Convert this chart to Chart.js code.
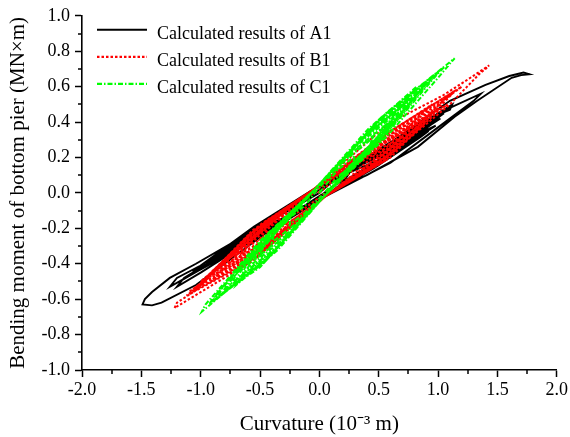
<!DOCTYPE html>
<html><head><meta charset="utf-8">
<script src="https://cdn.jsdelivr.net/npm/chart.js@4/dist/chart.umd.min.js"></script>
<style>html,body{margin:0;padding:0;background:#fff}#wrap{width:570px;height:437px}</style>
</head><body><div id="wrap"><canvas id="c" width="570" height="437"></canvas></div>
<script>
const seriesNames = ['Calculated results of A1', 'Calculated results of B1', 'Calculated results of C1'];
const xTitle = 'Curvature (10\u207B\u00B3 m)';
const yTitle = 'Bending moment of bottom pier (MN\u00D7m)';
const xMinorTicks = [-1.75, -1.25, -0.75, -0.25, 0.25, 0.75, 1.25, 1.75];
const yMinorTicks = [-0.9, -0.7, -0.5, -0.3, -0.1, 0.1, 0.3, 0.5, 0.7, 0.9];

// A1 (black) curvature / moment pairs
const a1Points = [
 [0,0],
 [0.12,0.07],[0.25,0.11],[0.22,0.08],[0.12,0.04],[0.02,-0.01],[-0.12,-0.07],[-0.25,-0.11],[-0.22,-0.08],[-0.12,-0.04],[-0.02,0.01],
 [0.22,0.12],[0.45,0.19],[0.41,0.15],[0.22,0.07],[0.05,-0.02],[-0.2,-0.11],[-0.4,-0.17],[-0.37,-0.13],[-0.2,-0.07],[-0.05,0.02],
 [0.27,0.12],[0.55,0.2],[0.51,0.165],[0.27,0.08],[0.05,-0.02],[-0.25,-0.13],[-0.5,-0.22],[-0.46,-0.185],[-0.25,-0.09],[-0.05,0.02],
 [0.3,0.145],[0.6,0.25],[0.55,0.21],[0.3,0.095],[0.05,-0.02],[-0.27,-0.135],[-0.55,-0.23],[-0.5,-0.19],[-0.27,-0.09],[-0.05,0.02],
 [0.32,0.153],[0.65,0.26],[0.6,0.225],[0.32,0.104],[0.05,-0.02],[-0.3,-0.153],[-0.6,-0.26],[-0.55,-0.225],[-0.3,-0.104],[-0.05,0.02],
 [0.35,0.165],[0.7,0.29],[0.64,0.25],[0.35,0.11],[0.05,-0.02],[-0.32,-0.155],[-0.65,-0.27],[-0.6,-0.23],[-0.32,-0.11],[-0.05,0.02],
 [0.37,0.164],[0.75,0.28],[0.69,0.245],[0.37,0.112],[0.05,-0.02],[-0.35,-0.175],[-0.7,-0.3],[-0.64,-0.265],[-0.35,-0.12],[-0.05,0.02],
 [0.4,0.185],[0.8,0.33],[0.74,0.29],[0.4,0.125],[0.05,-0.02],[-0.37,-0.175],[-0.75,-0.31],[-0.69,-0.27],[-0.37,-0.125],[-0.05,0.02],
 [0.42,0.186],[0.85,0.32],[0.78,0.285],[0.42,0.128],[0.05,-0.02],[-0.4,-0.197],[-0.8,-0.34],[-0.74,-0.305],[-0.4,-0.136],[-0.05,0.02],
 [0.45,0.205],[0.9,0.37],[0.83,0.33],[0.45,0.14],[0.05,-0.02],[-0.42,-0.195],[-0.85,-0.35],[-0.78,-0.31],[-0.42,-0.14],[-0.05,0.02],
 [0.46,0.2],[0.92,0.35],[0.85,0.315],[0.46,0.14],[0.05,-0.02],[-0.45,-0.22],[-0.9,-0.38],[-0.83,-0.345],[-0.45,-0.152],[-0.05,0.02],
 [0.47,0.22],[0.95,0.40],[0.87,0.36],[0.47,0.15],[0.05,-0.02],[-0.47,-0.22],[-0.95,-0.40],[-0.87,-0.36],[-0.47,-0.16],[-0.05,0.02],
 [0.49,0.22],[0.98,0.38],[0.9,0.345],[0.49,0.152],[0.05,-0.02],[-0.48,-0.235],[-0.97,-0.41],[-0.89,-0.375],[-0.48,-0.164],[-0.05,0.02],
 [0.44,0.208],[0.88,0.36],[0.81,0.325],[0.44,0.144],[0.05,-0.02],[-0.52,-0.257],[-1.05,-0.45],[-0.97,-0.415],[-0.52,-0.18],[-0.05,0.02],
 [0.52,0.245],[1.05,0.45],[0.97,0.41],[0.52,0.17],[0.05,-0.02],[-0.5,-0.235],[-1.0,-0.43],[-0.92,-0.39],[-0.5,-0.175],[-0.05,0.02],
 [0.51,0.241],[1.02,0.42],[0.94,0.385],[0.51,0.168],[0.05,-0.02],[-0.46,-0.23],[-0.92,-0.40],[-0.85,-0.365],[-0.46,-0.16],[-0.05,0.02],
 [0.56,0.27],[1.0,0.45],[1.12,0.50],[1.1,0.47],[1.03,0.45],[0.56,0.19],[0.05,-0.02],[-0.55,-0.255],[-1.1,-0.47],[-1.02,-0.42],[-0.55,-0.19],[-0.05,0.02],
 [0.5,0.24],[1.0,0.44],[0.92,0.40],[0.5,0.17],[0.05,-0.02],[-0.63,-0.29],[-1.1,-0.47],[-1.26,-0.53],[-1.2,-0.48],[-1.0,-0.41],[-0.6,-0.24],[-0.05,0.02],
 [0.68,0.31],[1.1,0.48],[1.36,0.56],[1.3,0.52],[1.0,0.37],[0.6,0.17],[0.05,-0.02],[-0.6,-0.28],[-1.0,-0.45],[-1.2,-0.53],[-1.14,-0.48],[-0.9,-0.38],[-0.5,-0.19],[-0.05,0.02],
 [0.55,0.26],[1.1,0.52],[1.4,0.61],[1.6,0.66],[1.72,0.68],[1.77,0.67],[1.7,0.665],[1.62,0.65],[1.33,0.52],[1.14,0.43],[0.83,0.26],[0.4,0.10],[0,-0.02],
 [-0.5,-0.25],[-1.04,-0.52],[-1.33,-0.62],[-1.41,-0.635],[-1.49,-0.63],[-1.47,-0.6],[-1.41,-0.56],[-1.26,-0.48],[-1.04,-0.40],[-0.6,-0.23],[0,0]
];

// B1 (red)
const b1Points = [
 [0,0],
 [0.15,0.09],[0.3,0.15],[0.27,0.12],[0.15,0.05],[0.03,-0.01],[-0.15,-0.1],[-0.3,-0.15],[-0.27,-0.12],[-0.15,-0.055],[-0.03,0.01],
 [0.25,0.145],[0.5,0.25],[0.46,0.21],[0.25,0.085],[0.05,-0.02],[-0.22,-0.15],[-0.45,-0.23],[-0.42,-0.19],[-0.22,-0.085],[-0.05,0.02],
 [0.27,0.145],[0.55,0.25],[0.51,0.21],[0.27,0.09],[0.05,-0.02],[-0.25,-0.166],[-0.5,-0.26],[-0.46,-0.22],[-0.25,-0.099],[-0.05,0.02],
 [0.32,0.185],[0.65,0.32],[0.6,0.28],[0.32,0.105],[0.05,-0.02],[-0.3,-0.2],[-0.6,-0.3],[-0.56,-0.26],[-0.3,-0.11],[-0.05,0.02],
 [0.35,0.186],[0.7,0.32],[0.65,0.28],[0.35,0.115],[0.05,-0.02],[-0.32,-0.218],[-0.65,-0.34],[-0.6,-0.3],[-0.32,-0.129],[-0.05,0.02],
 [0.37,0.215],[0.75,0.37],[0.7,0.33],[0.37,0.12],[0.05,-0.02],[-0.35,-0.23],[-0.7,-0.35],[-0.65,-0.31],[-0.35,-0.125],[-0.05,0.02],
 [0.4,0.22],[0.8,0.38],[0.74,0.34],[0.4,0.137],[0.05,-0.02],[-0.37,-0.25],[-0.75,-0.39],[-0.7,-0.35],[-0.37,-0.148],[-0.05,0.02],
 [0.42,0.245],[0.85,0.42],[0.79,0.38],[0.42,0.14],[0.05,-0.02],[-0.4,-0.265],[-0.8,-0.4],[-0.74,-0.36],[-0.4,-0.145],[-0.05,0.02],
 [0.45,0.244],[0.9,0.42],[0.84,0.38],[0.45,0.151],[0.05,-0.02],[-0.42,-0.275],[-0.85,-0.43],[-0.79,-0.39],[-0.42,-0.163],[-0.05,0.02],
 [0.47,0.275],[0.95,0.47],[0.88,0.43],[0.47,0.155],[0.05,-0.02],[-0.45,-0.3],[-0.9,-0.45],[-0.84,-0.41],[-0.45,-0.16],[-0.05,0.02],
 [0.47,0.29],[0.95,0.5],[0.88,0.46],[0.47,0.18],[0.05,-0.02],[-0.45,-0.314],[-0.9,-0.49],[-0.84,-0.45],[-0.45,-0.186],[-0.05,0.02],
 [0.5,0.273],[1.0,0.47],[0.93,0.43],[0.5,0.169],[0.05,-0.02],[-0.47,-0.307],[-0.95,-0.48],[-0.88,-0.44],[-0.47,-0.182],[-0.05,0.02],
 [0.52,0.3],[1.05,0.52],[0.98,0.48],[0.52,0.17],[0.05,-0.02],[-0.5,-0.33],[-1.0,-0.5],[-0.93,-0.46],[-0.5,-0.18],[-0.05,0.02],
 [0.54,0.29],[1.08,0.5],[1.0,0.46],[0.54,0.18],[0.05,-0.02],[-0.51,-0.333],[-1.02,-0.52],[-0.95,-0.48],[-0.51,-0.198],[-0.05,0.02],
 [0.56,0.325],[1.12,0.56],[1.04,0.52],[0.56,0.185],[0.05,-0.02],[-0.52,-0.36],[-1.05,-0.55],[-0.98,-0.51],[-0.52,-0.2],[-0.05,0.02],
 [0.57,0.336],[1.15,0.58],[1.07,0.54],[0.57,0.209],[0.05,-0.02],[-0.55,-0.358],[-1.1,-0.56],[-1.02,-0.52],[-0.55,-0.213],[-0.05,0.02],
 [0.6,0.35],[1.2,0.6],[1.12,0.56],[0.6,0.2],[0.05,-0.02],[-0.56,-0.38],[-1.12,-0.58],[-1.04,-0.54],[-0.56,-0.21],[-0.05,0.02],
 [0.58,0.39],[1.04,0.55],[1.25,0.64],[1.43,0.72],[1.4,0.7],[1.36,0.68],[1.1,0.5],[0.6,0.22],[0.05,-0.02],
 [-0.55,-0.38],[-1.0,-0.56],[-1.22,-0.65],[-1.2,-0.62],[-1.04,-0.55],[-0.6,-0.24],[-0.05,0.02],[0,0]
];

// C1 (green)
const c1Points = [
 [0,0],
 [0.15,0.126],[0.3,0.21],[0.28,0.16],[0.15,0.088],[0.03,-0.01],[-0.12,-0.112],[-0.25,-0.18],[-0.24,-0.13],[-0.12,-0.072],[-0.03,0.01],
 [0.22,0.186],[0.45,0.31],[0.42,0.26],[0.22,0.13],[0.04,-0.02],[-0.2,-0.174],[-0.4,-0.28],[-0.38,-0.23],[-0.2,-0.112],[-0.04,0.02],
 [0.27,0.228],[0.55,0.38],[0.51,0.33],[0.27,0.16],[0.04,-0.02],[-0.25,-0.217],[-0.5,-0.35],[-0.47,-0.3],[-0.25,-0.14],[-0.04,0.02],
 [0.3,0.24],[0.6,0.4],[0.56,0.35],[0.3,0.168],[0.04,-0.02],[-0.27,-0.236],[-0.55,-0.38],[-0.52,-0.33],[-0.27,-0.152],[-0.04,0.02],
 [0.32,0.27],[0.65,0.45],[0.6,0.4],[0.32,0.19],[0.04,-0.02],[-0.3,-0.26],[-0.6,-0.42],[-0.57,-0.37],[-0.3,-0.168],[-0.04,0.02],
 [0.35,0.294],[0.7,0.49],[0.65,0.44],[0.35,0.206],[0.04,-0.02],[-0.32,-0.285],[-0.65,-0.46],[-0.62,-0.41],[-0.32,-0.184],[-0.04,0.02],
 [0.37,0.312],[0.75,0.52],[0.7,0.47],[0.37,0.218],[0.04,-0.02],[-0.35,-0.304],[-0.7,-0.49],[-0.66,-0.44],[-0.35,-0.196],[-0.04,0.02],
 [0.4,0.33],[0.8,0.55],[0.74,0.5],[0.4,0.231],[0.04,-0.02],[-0.37,-0.316],[-0.74,-0.51],[-0.7,-0.46],[-0.37,-0.204],[-0.04,0.02],
 [0.41,0.36],[0.82,0.6],[0.76,0.55],[0.41,0.25],[0.04,-0.02],[-0.35,-0.322],[-0.7,-0.52],[-0.66,-0.47],[-0.35,-0.208],[-0.04,0.02],
 [0.42,0.348],[0.85,0.58],[0.79,0.53],[0.42,0.244],[0.04,-0.02],[-0.39,-0.335],[-0.78,-0.54],[-0.74,-0.49],[-0.39,-0.216],[-0.04,0.02],
 [0.45,0.372],[0.9,0.62],[0.84,0.57],[0.45,0.26],[0.04,-0.02],[-0.41,-0.353],[-0.82,-0.57],[-0.78,-0.52],[-0.41,-0.228],[-0.04,0.02],
 [0.47,0.39],[0.95,0.65],[0.88,0.6],[0.47,0.273],[0.04,-0.02],[-0.43,-0.366],[-0.86,-0.59],[-0.82,-0.54],[-0.43,-0.236],[-0.04,0.02],
 [0.5,0.408],[1.0,0.68],[0.93,0.63],[0.5,0.286],[0.04,-0.02],[-0.45,-0.378],[-0.9,-0.61],[-0.85,-0.56],[-0.45,-0.244],[-0.04,0.02],
 [0.52,0.426],[1.05,0.71],[0.98,0.66],[0.52,0.298],[0.04,-0.02],[-0.46,-0.39],[-0.93,-0.63],[-0.88,-0.58],[-0.46,-0.252],[-0.04,0.02],
 [0.57,0.456],[1.14,0.76],[1.1,0.73],[1.0,0.65],[0.57,0.32],[0.04,-0.02],[-0.5,-0.42],[-0.74,-0.53],[-0.99,-0.67],[-0.96,-0.63],[-0.79,-0.5],[-0.5,-0.27],[-0.04,0.02],[0,0]
];

const colors = ['#000000', '#ff0000', '#00ff00'];
const dashes = [[], [2.5, 2], [5, 2, 1.5, 2]];
const widths = [1.9, 2, 2];
const FONT = "'Liberation Serif', 'Times New Roman', serif";

const toXY = arr => arr.map(p => ({x: p[0], y: p[1]}));
const seriesData = [a1Points, b1Points, c1Points];

const datasets = seriesData.map((pts, i) => ({
  label: seriesNames[i],
  data: toXY(pts),
  showLine: true,
  borderColor: colors[i],
  backgroundColor: colors[i],
  borderWidth: widths[i],
  borderDash: dashes[i],
  pointRadius: 0,
  tension: 0,
  fill: false,
  order: 3 - i
}));

const fmt = v => (Math.abs(v) < 1e-9 ? '0.0' : Number(v).toFixed(1));

const minorTicksPlugin = {
  id: 'minorTicks',
  afterDraw(chart) {
    const ctx = chart.ctx, a = chart.chartArea;
    const xs = chart.scales.x, ys = chart.scales.y;
    ctx.save();
    ctx.strokeStyle = '#000';
    ctx.lineWidth = 1.5;
    ctx.beginPath();
    xMinorTicks.forEach(v => { const px = Math.round(xs.getPixelForValue(v)); ctx.moveTo(px, a.bottom); ctx.lineTo(px, a.bottom + 4); });
    yMinorTicks.forEach(v => { const py = Math.round(ys.getPixelForValue(v)); ctx.moveTo(a.left - 4, py); ctx.lineTo(a.left, py); });
    ctx.stroke();
    ctx.restore();
  }
};

const legendPlugin = {
  id: 'insideLegend',
  afterDraw(chart) {
    const ctx = chart.ctx, a = chart.chartArea;
    ctx.save();
    chart.data.datasets.forEach((d, i) => {
      const y = a.top + 14 + i * 27;
      ctx.beginPath();
      ctx.strokeStyle = d.borderColor;
      ctx.lineWidth = i === 0 ? 2 : 2.2;
      ctx.setLineDash(d.borderDash);
      ctx.moveTo(a.left + 15, y);
      ctx.lineTo(a.left + 65, y);
      ctx.stroke();
      ctx.setLineDash([]);
      ctx.fillStyle = '#000';
      ctx.font = "18px " + FONT;
      ctx.textBaseline = 'middle';
      ctx.textAlign = 'left';
      ctx.fillText(d.label, a.left + 75, y + 4);
    });
    ctx.restore();
  }
};

new Chart(document.getElementById('c'), {
  type: 'scatter',
  data: { datasets },
  options: {
    responsive: false,
    animation: false,
    layout: { padding: { top: 14, right: 10, left: 0, bottom: 0 } },
    plugins: { legend: { display: false }, tooltip: { enabled: false } },
    scales: {
      x: {
        type: 'linear', min: -2, max: 2,
        afterFit(s) { s.height = 67; },
        ticks: { stepSize: 0.5, callback: fmt, color: '#000', font: { family: FONT, size: 18 }, padding: 2, maxRotation: 0, autoSkip: false },
        grid: { drawOnChartArea: false, drawTicks: true, tickLength: 7, tickColor: '#000', tickWidth: 1.5 },
        border: { color: '#000', width: 1.6 },
        title: { display: true, text: xTitle, color: '#000', font: { family: FONT, size: 21 }, padding: { top: 3, bottom: 0 } }
      },
      y: {
        type: 'linear', min: -1, max: 1,
        afterFit(s) { s.width = 82; },
        ticks: { stepSize: 0.2, callback: fmt, color: '#000', font: { family: FONT, size: 18 }, padding: 5, autoSkip: false },
        grid: { drawOnChartArea: false, drawTicks: true, tickLength: 7, tickColor: '#000', tickWidth: 1.5 },
        border: { color: '#000', width: 1.6 },
        title: { display: true, text: yTitle, color: '#000', font: { family: FONT, size: 21 }, padding: { top: 6, bottom: 0 } }
      }
    }
  },
  plugins: [minorTicksPlugin, legendPlugin]
});
</script></body></html>
